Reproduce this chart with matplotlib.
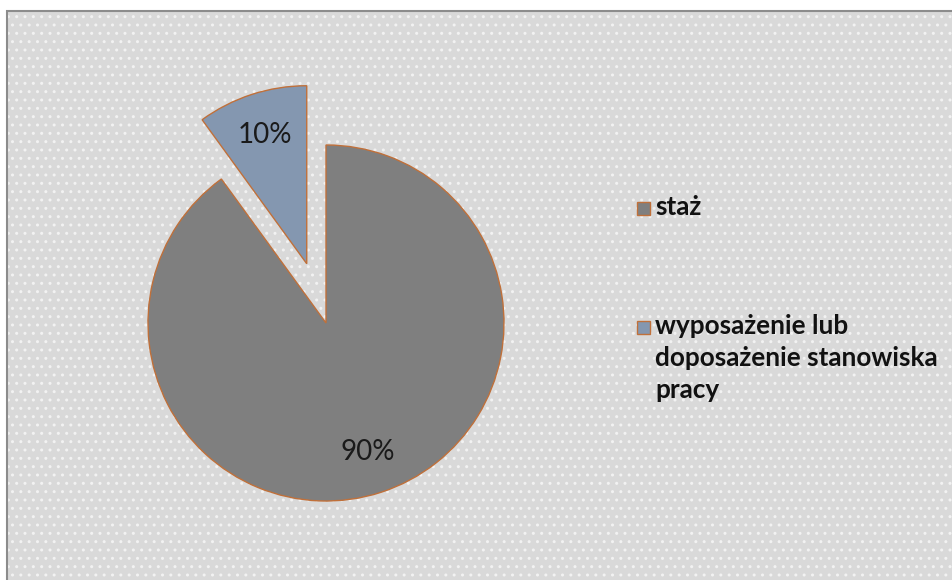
import matplotlib.pyplot as plt
from matplotlib.patches import Rectangle

categories = ['staż', 'wyposażenie lub\ndoposażenie stanowiska\npracy']
values = [90, 10]
colors = ['#7f7f7f', '#8497b0']
explode = [0, 0.35]

fig = plt.figure(figsize=(9.53, 5.8), dpi=100)
fig.patch.set_facecolor('white')

# chart area background with dotted pattern
W, H = 953, 580
bg = Rectangle((7 / W, 0), 1, 1 - 11 / H, transform=fig.transFigure,
               facecolor='#d9d9d9', edgecolor='#f2f2f2', hatch='..', linewidth=0, zorder=-2)
fig.patches.append(bg)
border = Rectangle((7 / W, -0.01), 1, 1 - 11 / H + 0.01, transform=fig.transFigure,
                   facecolor='none', edgecolor='#8c8c8c', linewidth=1.5, zorder=-1)
fig.patches.append(border)

# pie axes: center at (326, 323) px, radius 178 px
lim = 1.45
size = 2 * lim * 178
cx, cy = 326, H - 323
ax = fig.add_axes([(cx - size / 2) / W, (cy - size / 2) / H, size / W, size / H])
ax.patch.set_visible(False)

wedges, texts, autotexts = ax.pie(
    values, colors=colors, explode=explode, startangle=90, counterclock=False,
    autopct='%1.0f%%', pctdistance=0.76, radius=1,
    wedgeprops=dict(edgecolor='#c0703a', linewidth=1.0),
    textprops=dict(fontsize=20, color='#1a1a1a', family='Lato'))
ax.set_xlim(-lim, lim)
ax.set_ylim(-lim, lim)
ax.set_aspect('equal')
ax.axis('off')

# legend
leg_y = [208, 327]
for cat, col, y in zip(categories, colors, leg_y):
    fig.patches.append(Rectangle((637 / W, (H - y - 7) / H), 13 / W, 13 / H,
                                 transform=fig.transFigure, facecolor=col,
                                 edgecolor='#c0703a', linewidth=1.0, zorder=3))
    fig.text(655 / W, (H - y + 13) / H, cat, fontsize=18.8, fontweight='bold',
             family='Lato', color='#111111', va='top', ha='left',
             linespacing=1.4, transform=fig.transFigure)

fig.savefig('out.png', dpi=100, facecolor=fig.get_facecolor())
